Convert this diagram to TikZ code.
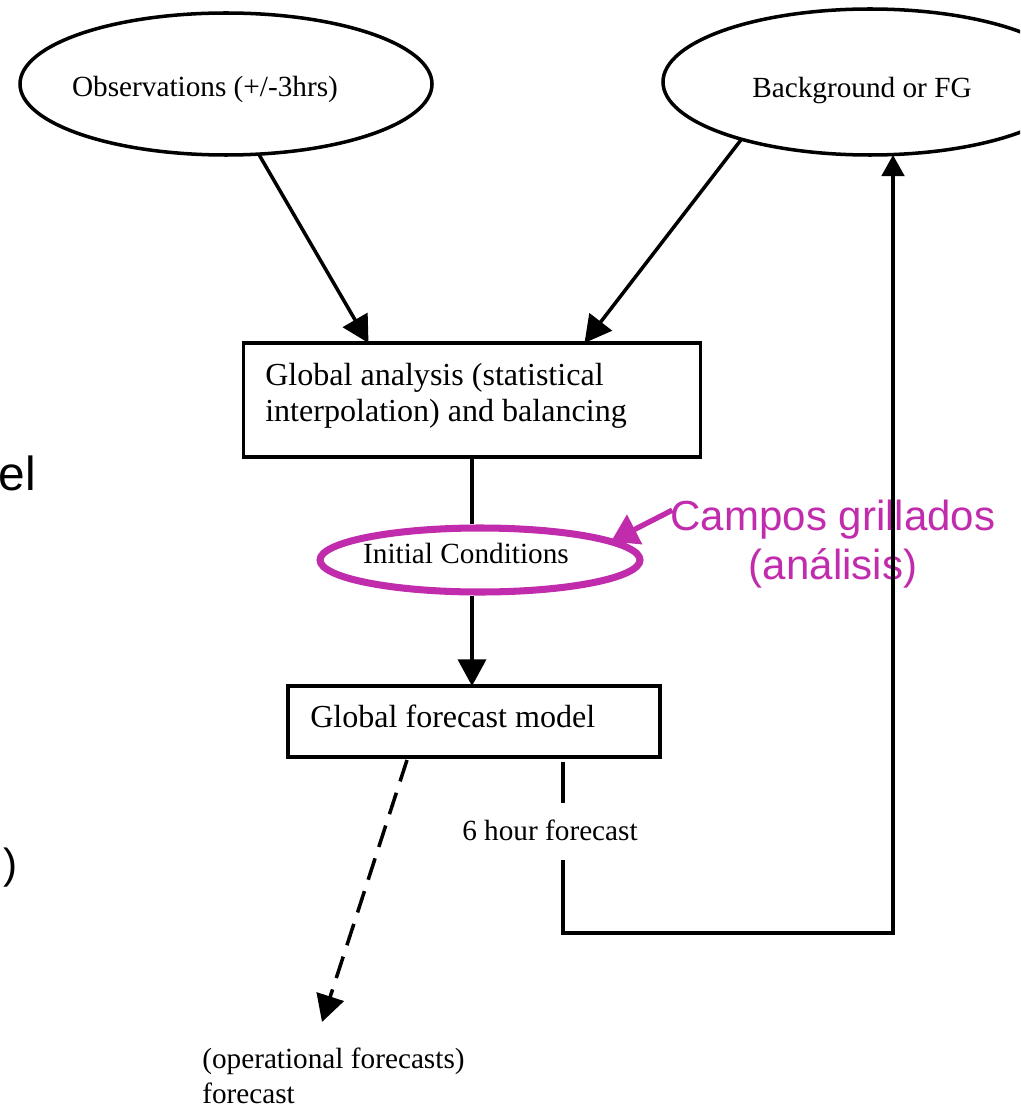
\documentclass[tikz,border=0pt]{standalone}
\usepackage{fontspec}
\setmainfont{Liberation Serif}
\newfontfamily\arialf{Liberation Sans}
\usetikzlibrary{arrows.meta,shapes.geometric,calc}
\definecolor{mag}{RGB}{192,44,172}
\begin{document}
\begin{tikzpicture}[x=0.025cm,y=-0.025cm,
  line/.style={line width=2.5pt},
  arr/.style={line, -{Triangle[length=19pt,width=20pt]}},
  ell/.style={ellipse, draw, line width=2.5pt, inner sep=0pt, outer sep=0pt},
  boxn/.style={draw, line width=2.5pt, inner sep=0pt, outer sep=0pt},
  txt/.style={font=\fontsize{20.8pt}{25pt}\selectfont, inner sep=0pt},
  btxt/.style={font=\fontsize{22.8pt}{26pt}\selectfont, inner sep=0pt, anchor=base west},
  stxt/.style={font=\arialf\fontsize{29.9pt}{34pt}\selectfont, text=mag, inner sep=0pt, anchor=base},
]
\useasboundingbox (0,0) rectangle (1020,1109);
\clip (0,0) rectangle (1020,1109);

% nodes
\node[ell, minimum width=412*0.025cm, minimum height=142*0.025cm] (obs) at (226,84) {};
\node[txt, anchor=base] (obst) at (205,97) {Observations (+/-3hrs)};
\node[ell, minimum width=414*0.025cm, minimum height=146*0.025cm] (bg) at (870,82) {};
\node[txt, anchor=base] (bgt) at (862,98) {Background or FG};
\node[boxn, minimum width=457*0.025cm, minimum height=114*0.025cm] (ga) at (472,400) {};
\node[btxt] (gat1) at (265,385) {Global analysis (statistical};
\node[btxt] (gat2) at (265,421) {interpolation) and balancing};
\node[ell, draw=mag, line width=5pt, minimum width=320*0.025cm, minimum height=64*0.025cm] (ic) at (480,560) {};
\node[txt, anchor=base] (ict) at (466,563) {Initial Conditions};
\node[boxn, minimum width=372*0.025cm, minimum height=71*0.025cm] (gf) at (474,721.5) {};
\node[btxt] (gft) at (310,727) {Global forecast model};
\node[txt, anchor=base west] (fc6) at (462,840) {6 hour forecast};
\node[txt, anchor=base west] (op1) at (202,1068) {(operational forecasts)};
\node[txt, anchor=base west] (op2) at (202,1103) {forecast};
\node[stxt] (cg1) at (833,530) {Campos grillados};
\node[stxt] (cg2) at (833,579) {(análisis)};
\node[font=\arialf\fontsize{34pt}{40pt}\selectfont, anchor=base east, inner sep=0pt] (el) at (36,490) {el};
\node[font=\arialf\fontsize{30pt}{36pt}\selectfont, anchor=base east, inner sep=0pt] (rp) at (18,878) {)};

% connectors
\draw[arr] (obs.-65) -- ($(ga.north west)+(125,0)$);
\draw[arr] (bg.204) -- ($(ga.north west)+(341,0)$);
\draw[line, shorten >=2.5pt] (ga.south) -- (ga.south |- ic.north);
\draw[arr, shorten <=2.5pt] (ga.south |- ic.south) -- (ga.south |- gf.north);
\coordinate (a1) at (563,762);
\coordinate (a2) at (563,803);
\coordinate (a3) at (563,860);
\draw[line] (a1) -- (a2);
\draw[line, -{Triangle[length=15pt,width=16pt]}] (a3) -- ++(0,73) -| ($(bg.south)+(23,0)$);
\coordinate (dend) at (322,1022);
\draw[arr, dash pattern=on 16pt off 8.5pt] ($(gf.south west)+(119,3)$) -- (dend);
\draw[mag, line width=3.8pt, -{Triangle[length=19pt,width=23pt]}] ($(cg1.west)+(2,-9)$) -- (ic.8);
\end{tikzpicture}
\end{document}
